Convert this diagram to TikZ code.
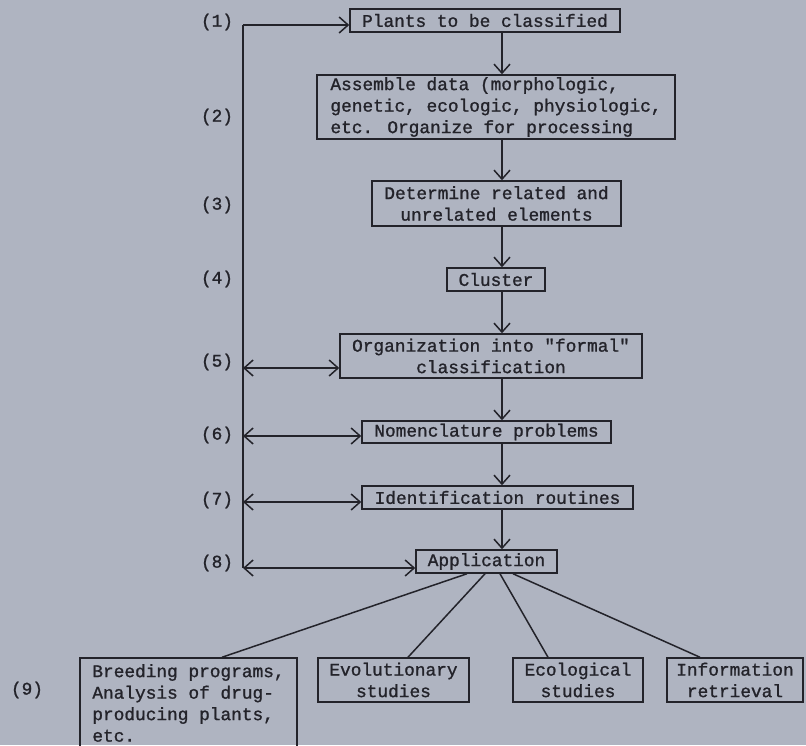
\documentclass[tikz,border=0pt]{standalone}
\usepackage{fontspec}
\setmainfont{Liberation Mono}[Ligatures=TeXOff,FakeBold=1.2]
\usetikzlibrary{arrows.meta,calc}
\definecolor{bg}{RGB}{175,180,193}
\definecolor{ink}{RGB}{35,35,42}
\begin{document}
\begin{tikzpicture}[x=1pt,y=-1pt,
  tw/.style={font=\fontsize{17.8}{21.5}\selectfont, text=ink},
  box/.style={tw, draw=ink, line width=1.5pt, inner sep=0pt, align=center},
  lbl/.style={tw, inner sep=0pt},
  conn/.style={draw=ink, line width=1.5pt},
  tip/.tip={Straight Barb[length=9pt,width=16pt,line width=1.5pt]},
  arr/.style={conn,-tip},
  darr/.style={conn,tip-tip}]
\fill[bg] (0,0) rectangle (806,745);
\useasboundingbox (0,0) rectangle (806,745);

% main column boxes
\node[box, minimum width=270pt, minimum height=23pt] (b1) at (485,20.5) {Plants to be classified};
\node[box, align=left, minimum width=358pt, minimum height=64pt] (b2) at (496,107) {Assemble data (morphologic,\\genetic, ecologic, physiologic,\\etc.  Organize for processing};
\node[box, minimum width=249pt, minimum height=45pt] (b3) at (496.5,203.5) {Determine related and\\unrelated elements};
\node[box, minimum width=98pt, minimum height=23pt] (b4) at (496,279.5) {Cluster};
\node[box, minimum width=302pt, minimum height=44pt] (b5) at (491,356) {Organization into "formal"\\classification};
\node[box, minimum width=249pt, minimum height=22pt] (b6) at (486.5,432) {Nomenclature problems};
\node[box, minimum width=271pt, minimum height=23pt] (b7) at (497.5,497.5) {Identification routines};
\node[box, minimum width=141pt, minimum height=23pt] (b8) at (486.5,561.5) {Application};

% bottom boxes
\node[box, align=left, minimum width=217pt, minimum height=90pt] (c1) at (188.5,703) {Breeding programs,\\Analysis of drug-\\producing plants,\\etc.};
\node[box, minimum width=151pt, minimum height=44pt] (c2) at (393.5,680) {Evolutionary\\studies};
\node[box, minimum width=130pt, minimum height=44pt] (c3) at (578,680) {Ecological\\studies};
\node[box, minimum width=136pt, minimum height=44pt] (c4) at (735,680) {Information\\retrieval};

% step labels
\node[lbl] (l1) at (217,22) {(1)};
\node[lbl] (l2) at (217,117) {(2)};
\node[lbl] (l3) at (217,205) {(3)};
\node[lbl] (l4) at (217,279) {(4)};
\node[lbl] (l5) at (217,362) {(5)};
\node[lbl] (l6) at (217,435) {(6)};
\node[lbl] (l7) at (217,500) {(7)};
\node[lbl] (l8) at (217,563) {(8)};
\node[lbl] (l9) at (27,690) {(9)};

% vertical flow arrows
\coordinate (col) at (502,0);
\draw[arr] (b1.south -| col) -- (b2.north -| col);
\draw[arr] (b2.south -| col) -- (b3.north -| col);
\draw[arr] (b3.south -| col) -- (b4.north -| col);
\draw[arr] (b4.south -| col) -- (b5.north -| col);
\draw[arr] (b5.south -| col) -- (b6.north -| col);
\draw[arr] (b6.south -| col) -- (b7.north -| col);
\draw[arr] (b7.south -| col) -- (b8.north -| col);

% feedback spine
\coordinate (s1) at (243,25);
\coordinate (s5) at (243,368);
\coordinate (s6) at (243,436);
\coordinate (s7) at (243,502);
\coordinate (s8) at (243,568);
\draw[conn] (s1) -- (s8);
\draw[arr] (s1) -- (s1 -| b1.west);
\draw[darr] (s5) -- (s5 -| b5.west);
\draw[darr] (s6) -- (s6 -| b6.west);
\draw[darr] (s7) -- (s7 -| b7.west);
\draw[darr] (s8) -- (s8 -| b8.west);

% fan to applications
\draw[conn] ($(b8.south)+(-19.5,0)$) -- ($(c1.north)+(33.5,0)$);
\draw[conn] ($(b8.south)+(-1.5,0)$) -- ($(c2.north)+(14.5,0)$);
\draw[conn] ($(b8.south)+(13.5,0)$) -- ($(c3.north)+(-30,0)$);
\draw[conn] ($(b8.south)+(26.5,0)$) -- ($(c4.north)+(-35,0)$);
\end{tikzpicture}
\end{document}
